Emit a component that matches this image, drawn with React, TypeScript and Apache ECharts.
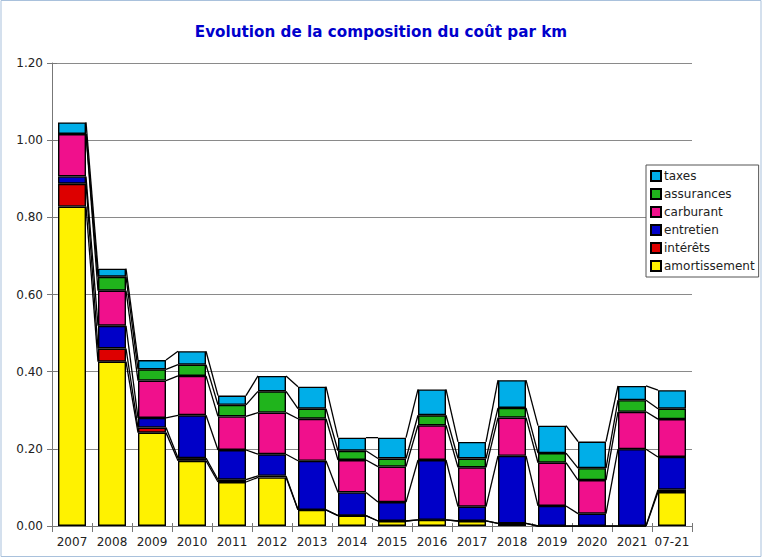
import React, { useEffect, useRef } from "react";
import * as echarts from "echarts";

const categories = ["2007","2008","2009","2010","2011","2012","2013","2014","2015","2016","2017","2018","2019","2020","2021","07-21"];
const amortissement = [0.828,0.426,0.242,0.169,0.114,0.126,0.042,0.027,0.013,0.016,0.013,0.007,0,0,0,0.088];
const interets =      [0.059,0.034,0.013,0.007,0.006,0.004,0,0,0,0,0,0,0,0,0,0.006];
const entretien =     [0.019,0.059,0.025,0.111,0.077,0.056,0.127,0.060,0.049,0.155,0.037,0.175,0.052,0.032,0.199,0.085];
const carburant =     [0.110,0.091,0.097,0.102,0.087,0.108,0.109,0.084,0.092,0.090,0.102,0.099,0.112,0.087,0.097,0.098];
const assurances =    [0,0.036,0.029,0.029,0.030,0.055,0.026,0.024,0.021,0.026,0.023,0.025,0.025,0.031,0.030,0.027];
const taxes =         [0.030,0.021,0.024,0.035,0.024,0.040,0.057,0.034,0.054,0.067,0.043,0.072,0.071,0.069,0.037,0.048];
const yTicks = [0, 0.2, 0.4, 0.6, 0.8, 1.0, 1.2];

const seriesDefs = [
  { name: "amortissement", data: amortissement, color: "#fff200" },
  { name: "intérêts", data: interets, color: "#dd0000" },
  { name: "entretien", data: entretien, color: "#0000c8" },
  { name: "carburant", data: carburant, color: "#f0108c" },
  { name: "assurances", data: assurances, color: "#20b41c" },
  { name: "taxes", data: taxes, color: "#00aee8" },
];

const FONT = "DejaVu Sans";

export default function App() {
  const ref = useRef<HTMLDivElement>(null);
  useEffect(() => {
    if (!ref.current) return;
    const chart = echarts.init(ref.current, null, { renderer: "svg" });
    const n = categories.length;
    const cums: number[][] = [];
    for (let i = 0; i < n; i++) {
      let s = 0;
      const row: number[] = [];
      for (const d of seriesDefs) {
        s += d.data[i];
        row.push(s);
      }
      cums.push(row);
    }
    const connData = [];
    for (let i = 0; i < n - 1; i++) connData.push([i, 0]);

    const option: any = {
      animation: false,
      backgroundColor: "#ffffff",
      title: {
        text: "Evolution de la composition du coût par km",
        left: "center",
        top: 19,
        textStyle: { color: "#0000cc", fontSize: 15.2, fontWeight: "bold", fontFamily: FONT },
      },
      grid: { left: 52, right: 70, top: 63, bottom: 33 },
      legend: {
        orient: "vertical",
        left: 646,
        top: 165,
        data: ["taxes", "assurances", "carburant", "entretien", "intérêts", "amortissement"],
        itemWidth: 10,
        itemHeight: 10,
        itemGap: 6,
        padding: [5, 4, 5, 4],
        borderColor: "#555",
        borderWidth: 1,
        backgroundColor: "#ffffff",
        icon: "rect",
        textStyle: { fontFamily: FONT, fontSize: 12, color: "#222", lineHeight: 12, padding: [0, 0, 0, -2] },
      },
      xAxis: [
        {
          type: "category",
          data: categories,
          axisLine: { lineStyle: { color: "#777", width: 1 } },
          axisTick: { show: true, length: 6, interval: 0, lineStyle: { color: "#777" } },
          axisLabel: { fontFamily: FONT, fontSize: 12, color: "#222", margin: 10, interval: 0 },
        },
        {
          type: "category",
          data: categories,
          position: "bottom",
          axisLine: { show: false },
          axisTick: { show: true, inside: true, length: 3, interval: 0, lineStyle: { color: "#777" } },
          axisLabel: { show: false },
        },
      ],
      yAxis: [
        {
          type: "value",
          min: yTicks[0],
          max: yTicks[yTicks.length - 1],
          interval: 0.2,
          axisLine: { show: true, lineStyle: { color: "#777", width: 1 } },
          axisTick: { show: true, length: 5, lineStyle: { color: "#777" } },
          splitLine: { show: true, lineStyle: { color: "#8a8a8a", width: 1 } },
          axisLabel: {
            fontFamily: FONT, fontSize: 12, color: "#222", margin: 9,
            formatter: (v: number) => v.toFixed(2),
          },
        },
        {
          type: "value",
          min: yTicks[0],
          max: yTicks[yTicks.length - 1],
          interval: 0.2,
          position: "left",
          axisLine: { show: false },
          axisTick: { show: true, inside: true, length: 5, lineStyle: { color: "#777" } },
          splitLine: { show: false },
          axisLabel: { show: false },
        },
      ],
      series: [
        ...seriesDefs.map((d) => ({
          type: "bar",
          name: d.name,
          stack: "total",
          data: d.data,
          barWidth: "70%",
          itemStyle: { color: d.color, borderColor: "#000", borderWidth: 1.4 },
          z: 3,
        })),
        {
          type: "custom",
          name: "connections",
          data: connData,
          z: 2,
          silent: true,
          renderItem: (params: any, api: any) => {
            const i = api.value(0);
            const band = api.size([1, 0])[0];
            const half = (band * 0.7) / 2;
            const children = [];
            for (let k = 0; k < seriesDefs.length; k++) {
              const p1 = api.coord([i, cums[i][k]]);
              const p2 = api.coord([i + 1, cums[i + 1][k]]);
              children.push({
                type: "line",
                shape: { x1: p1[0] + half, y1: p1[1], x2: p2[0] - half, y2: p2[1] },
                style: { stroke: "#000", lineWidth: 1.3 },
              });
            }
            return { type: "group", children };
          },
        },
      ],
      graphic: [
        {
          type: "rect",
          shape: { x: 1, y: 0.5, width: 760, height: 556 },
          style: { fill: "none", stroke: "#a9c1dc", lineWidth: 1 },
          silent: true,
        },
      ],
    };
    chart.setOption(option);
    return () => chart.dispose();
  }, []);
  return (
    <div
      ref={ref}
      style={{ position: "fixed", left: 0, top: 0, width: 762, height: 559 }}
    />
  );
}
